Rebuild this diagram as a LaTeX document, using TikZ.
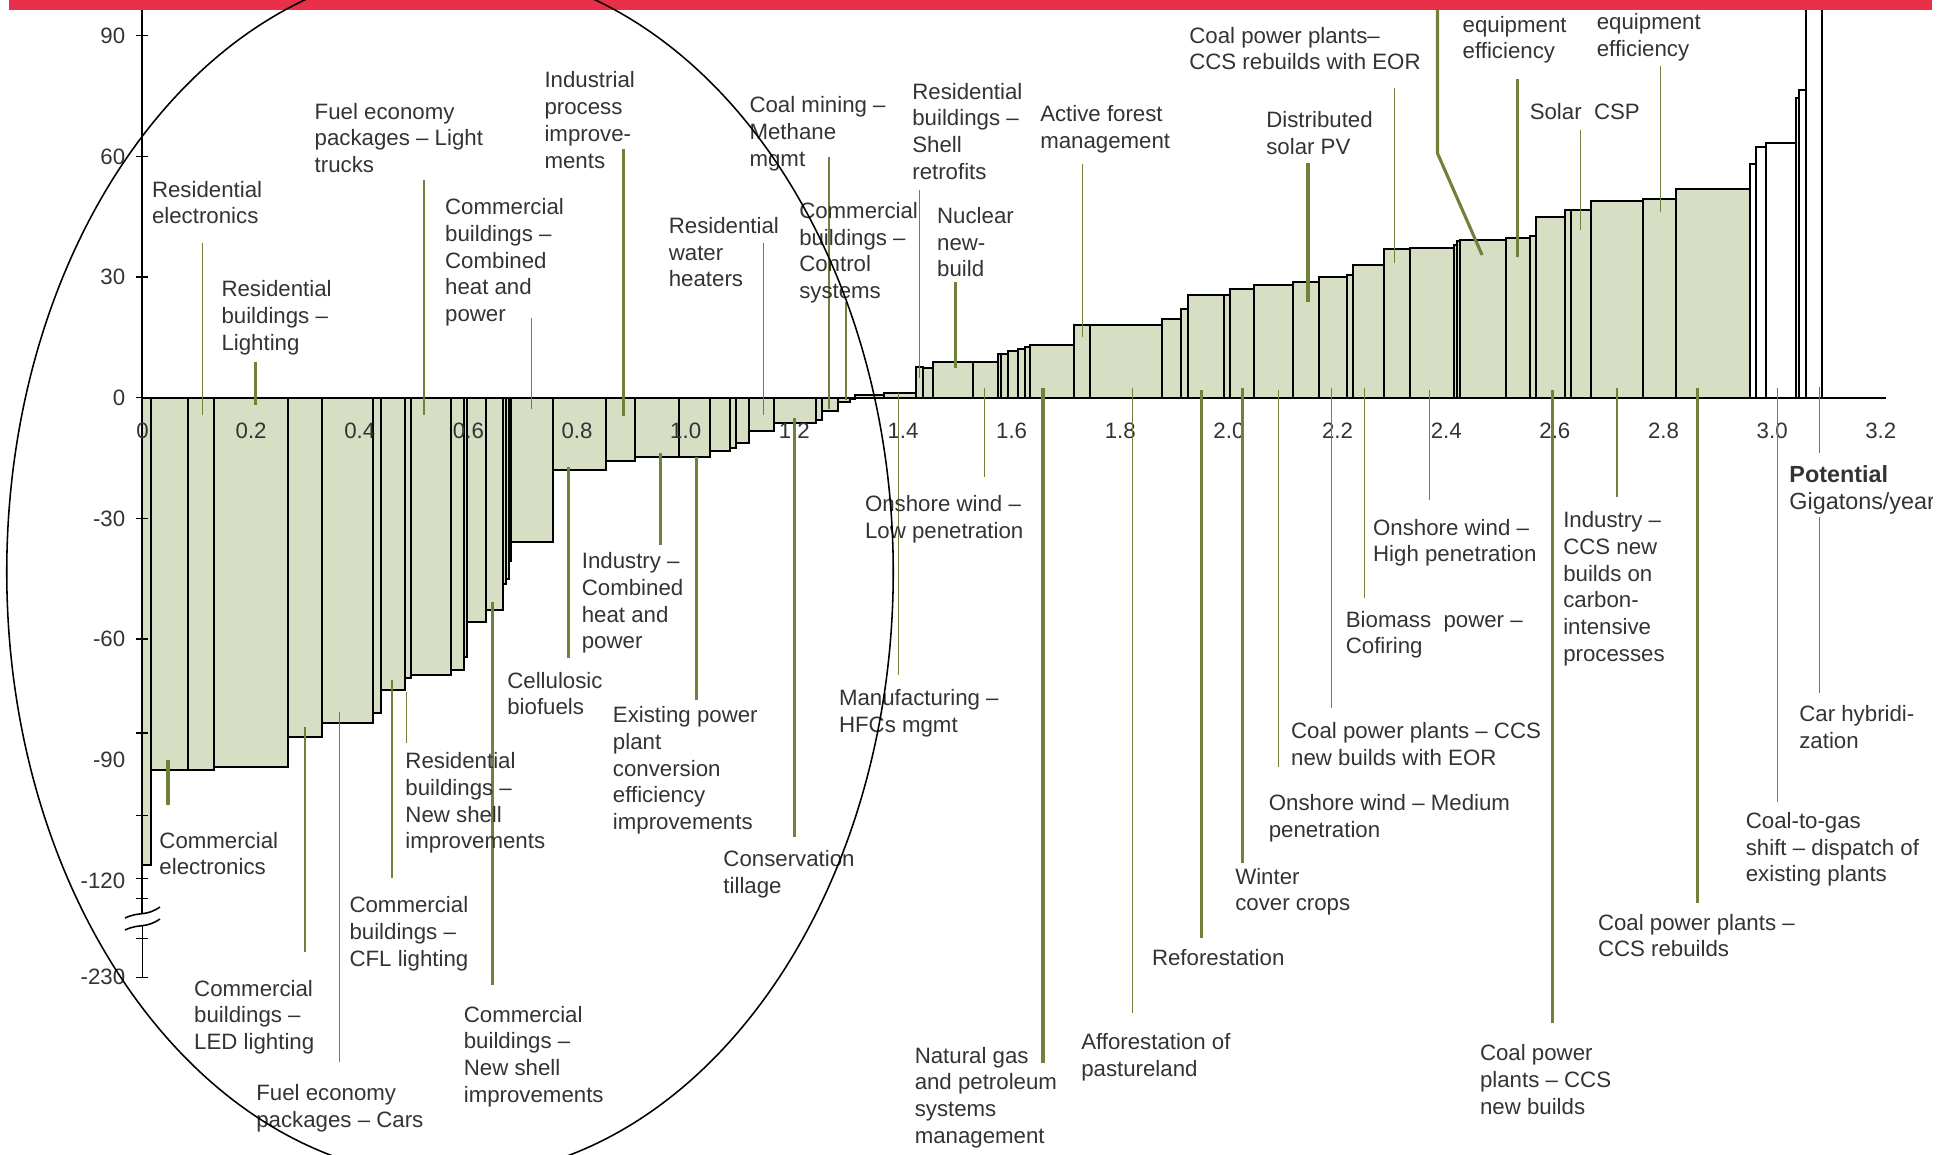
\documentclass[tikz,border=0pt]{standalone}
\usepackage{fontspec}
\setmainfont{Liberation Sans}
\definecolor{barfill}{RGB}{214,222,196}
\definecolor{leadcol}{RGB}{112,130,58}
\definecolor{topred}{RGB}{233,48,72}
\tikzset{
  lbl/.style={anchor=north west,inner sep=0pt,align=left,text=black!80,
    font=\fontsize{10}{12}\selectfont},
  ticklbl/.style={inner sep=0pt,text=black!80,font=\fontsize{10}{12}\selectfont},
  bar/.style={draw=black,line width=0.9pt,fill=barfill},
  hibar/.style={draw=black,line width=0.9pt,fill=white},
  lead/.style={draw=leadcol,line width=0.6pt},
  leadb/.style={draw=leadcol,line width=1.4pt}
}
\begin{document}
\begin{tikzpicture}[x=0.0158cm,y=-0.0158cm]
  \useasboundingbox (0,0) rectangle (1948,1155);
  \begin{scope}
  \clip (0,0) rectangle (1932,1155);

  % cost curve, in data units
  \begin{scope}[shift={(2.2499cm,-6.2805cm)},x=8.579cm,y=0.06352cm]
    \foreach \xb/\yv [remember=\xb as \xa (initially 0)] in {0.016/-116.3,0.083/-92.6,0.131/-92.6,0.267/-91.7,
      0.331/-84.3,0.424/-81.0,0.439/-78.5,0.484/-72.6,0.494/-69.8,0.568/-69.0,0.591/-67.6,0.597/-64.5,
      0.632/-55.8,0.663/-52.9,0.669/-46.4,0.675/-45.0,0.679/-40.5,0.755/-35.8,0.853/-18.0,0.907/-15.7,
      0.987/-14.7,1.044/-14.7,1.081/-13.2,1.092/-12.4,1.117/-11.2,1.163/-8.3,1.240/-6.4,1.251/-5.5,
      1.280/-3.3,1.303/-1.0,1.311/-0.4,1.365/0.6,1.424/1.2,1.436/7.6,1.455/7.5,1.529/8.9,1.574/8.9,
      1.580/10.8,1.593/10.8,1.611/11.6,1.624/12.2,1.634/12.6,1.714/13.0,1.745/18.0,1.876/18.0,
      1.912/19.6,1.924/22.1,1.990/25.5,2.002/25.5,2.047/27.1,2.118/28.1,2.165/28.8,2.217/30.0,
      2.229/30.4,2.285/33.1,2.333/37.0,2.414/37.3,2.420/37.9,2.426/39.0,2.510/39.1,2.555/39.6,
      2.566/40.1,2.619/44.9,2.629/46.6,2.666/46.6,2.763/48.8,2.823/49.3,2.959/52.0}
      \draw[bar] (\xa,0) rectangle (\xb,\yv);
    \foreach \xb/\yv [remember=\xb as \xa (initially 2.959)] in {2.971/58.0,2.988/62.4,3.043/63.3,
      3.049/74.4,3.063/76.4,3.092/99.0}
      \draw[hibar] (\xa,0) rectangle (\xb,\yv);

    % axes
    \draw[line width=0.9pt] (0,96.4) -- (0,-128.2);
    \draw[line width=0.7pt] (0,-131.2) -- (0,-144.1);
    \draw[line width=0.9pt] (0,0) -- (3.209,0);
    \foreach \t in {90,60,30,0,-30,-60,-83.4,-103.9,-119.5,-124.5,-134.5,-144.1}
      \draw[line width=0.7pt] (-0.011,\t) -- (0.011,\t);
    \foreach \t [count=\i] in {90,60,30,0,-30,-60,-90,-120}
      \node[ticklbl,anchor=east] (ylab\i) at (-0.031,\t) {\t};
    \node[ticklbl,anchor=east] (ylab9) at (-0.031,-144.1) {-230};
    \foreach \v [count=\i] in {0,0.2,0.4,0.6,0.8,1.0,1.2,1.4,1.6,1.8,2.0,2.2,2.4,2.6,2.8,3.0,3.2}
      \node[ticklbl] (xlab\i) at (\v,-8.3) {\v};
  \end{scope}

  % axis break
  \draw[line width=0.7pt] (125,918) .. controls (140,911) and (145,917) .. (160,907);
  \draw[line width=0.7pt] (125,930) .. controls (140,923) and (145,929) .. (160,919);

  % leader lines
  \foreach \lx/\ya/\yb in {202.2/242.7/415,424.1/180/415,531.3/318.3/409.3,763.4/242.7/415,
    829/157.3/409.3,846/302/400,919.6/190/378.3,1082.6/164/337.3,1394.2/88.3/263.3,
    1580.4/130/230,1660.7/66/211.7,984.8/388/476.7,898.2/393/675,406.3/691.7/743.3,
    392/680/878.3,304.9/726.7/951.7,339.3/711.7/1061.7,1132.6/388/1013,1278.8/390/766.7,
    1331.3/388/708.3,1364.3/388/598.3,1429.5/390/500,1617/388/496.7,1777.7/388/801.7,
    1819.2/386.7/453.3,1819.2/516.7/693.3}
    \draw[lead] (\lx,\ya) -- (\lx,\yb);
  \foreach \lx/\ya/\yb in {255.8/361.7/405,623.5/149.3/416,955.8/281.7/368.3,1308/163.3/301.7,
    1517.9/79.3/256.7,660.3/453/545,568.5/466.7/658.3,696.9/457.3/700,168/760/805,
    492.4/601.7/985,794.2/418/836.7,1043/388/1063,1201.3/390/938.3,1242.9/388/863.3,
    1552.7/390/1023.3,1697.8/388/903.3}
    \draw[leadb] (\lx,\ya) -- (\lx,\yb);
  \draw[leadb] (1437.5,10) -- (1437.5,153.3) -- (1482.1,255);

  % labels above the axis
  \node[lbl] (reselec) at (151.6,180.7) {Residential\\electronics};
  \node[lbl] (reslight) at (221.1,280.1) {Residential\\buildings –\\Lighting};
  \node[lbl] (fueltruck) at (314.3,102.5) {Fuel economy\\packages – Light\\trucks};
  \node[lbl] (commchp) at (444.7,198.1) {Commercial\\buildings –\\Combined\\heat and\\power};
  \node[lbl] (indproc) at (544.1,71.4) {Industrial\\process\\improve-\\ments};
  \node[lbl] (reswater) at (668.4,216.8) {Residential\\water\\heaters};
  \node[lbl] (coalmine) at (749.1,96.3) {Coal mining –\\Methane\\mgmt};
  \node[lbl] (commctrl) at (798.8,201.9) {Commercial\\buildings –\\Control\\systems};
  \node[lbl] (resshell) at (911.9,82.6) {Residential\\buildings –\\Shell\\retrofits};
  \node[lbl] (nuclear) at (936.7,206.8) {Nuclear\\new-\\build};
  \node[lbl] (forest) at (1039.8,105.0) {Active forest\\management};
  \node[lbl] (coaleorre) at (1188.9,26.7) {Coal power plants–\\CCS rebuilds with EOR};
  \node[lbl] (solarpv) at (1265.9,111.2) {Distributed\\solar PV};
  \node[lbl] (equipa) at (1462.2,15.5) {equipment\\efficiency};
  \node[lbl] (equipb) at (1596.4,13.0) {equipment\\efficiency};
  \node[lbl] (solarcsp) at (1529.3,102.5) {Solar\ \ CSP};
  \node[lbl,font=\fontsize{10.5}{12}\selectfont] (potential) at (1789,465.2)
    {\textbf{Potential}\\Gigatons/year};

  % labels below the axis
  \node[lbl] (windlow) at (864.6,495.1) {Onshore wind –\\Low penetration};
  \node[lbl] (indchp) at (581.4,552.2) {Industry –\\Combined\\heat and\\power};
  \node[lbl] (biofuel) at (506.9,671.5) {Cellulosic\\biofuels};
  \node[lbl] (existing) at (612.5,706.3) {Existing power\\plant\\conversion\\efficiency\\improvements};
  \node[lbl] (hfc) at (838.6,688.9) {Manufacturing –\\HFCs mgmt};
  \node[lbl] (resnew) at (405.0,752.2) {Residential\\buildings –\\New shell\\improvements};
  \node[lbl] (commelec) at (159.0,831.7) {Commercial\\electronics};
  \node[lbl] (cfl) at (349.1,896.3) {Commercial\\buildings –\\CFL lighting};
  \node[lbl] (led) at (193.8,979.6) {Commercial\\buildings –\\LED lighting};
  \node[lbl] (fuelcar) at (255.9,1083.9) {Fuel economy\\packages – Cars};
  \node[lbl] (commnew) at (463.4,1005.6) {Commercial\\buildings –\\New shell\\improvements};
  \node[lbl] (tillage) at (723.0,850.4) {Conservation\\tillage};
  \node[lbl] (natgas) at (914.3,1046.6) {Natural gas\\and petroleum\\systems\\management};
  \node[lbl] (afforest) at (1080.8,1033.0) {Afforestation of\\pastureland};
  \node[lbl] (reforest) at (1151.6,948.5) {Reforestation};
  \node[lbl] (winter) at (1234.8,867.7) {Winter\\cover crops};
  \node[lbl] (windmed) at (1268.4,794.4) {Onshore wind – Medium\\penetration};
  \node[lbl] (coaleornew) at (1290.7,722.4) {Coal power plants – CCS\\new builds with EOR};
  \node[lbl] (biomass) at (1345.4,610.6) {Biomass\ \ power –\\Cofiring};
  \node[lbl] (windhigh) at (1372.7,518.7) {Onshore wind –\\High penetration};
  \node[lbl] (indccs) at (1562.8,511.2) {Industry –\\CCS new\\builds on\\carbon-\\intensive\\processes};
  \node[lbl] (carhyb) at (1798.9,705.0) {Car hybridi-\\zation};
  \node[lbl] (coalgas) at (1745.4,811.8) {Coal-to-gas\\shift – dispatch of\\existing plants};
  \node[lbl] (coalre) at (1597.6,913.7) {Coal power plants –\\CCS rebuilds};
  \node[lbl] (coalnew) at (1479.6,1044.1) {Coal power\\plants – CCS\\new builds};

  % band and ellipse
  \fill[topred] (9,0) rectangle (1932,10);
  \draw[line width=0.7pt] (450,572) ellipse [x radius=7cm, y radius=9.56cm];
  \end{scope}
\end{tikzpicture}
\end{document}
